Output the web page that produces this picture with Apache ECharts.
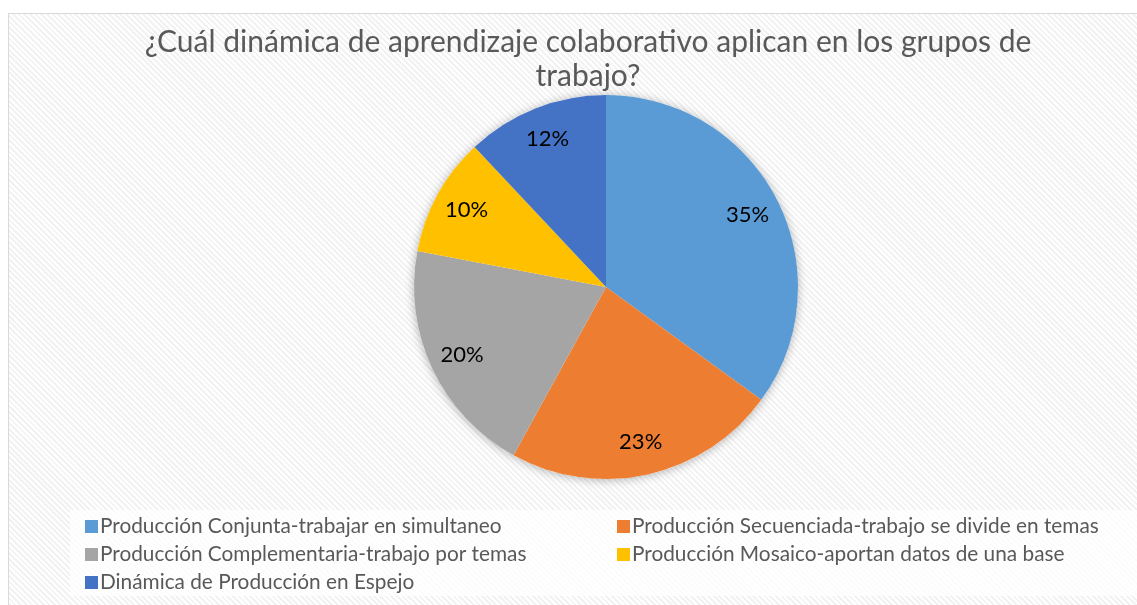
<!DOCTYPE html>
<html>
<head>
<meta charset="utf-8">
<script src="https://cdn.jsdelivr.net/npm/echarts@6/dist/echarts.min.js"></script>
<style>
html, body { margin: 0; padding: 0; background: #fff; }
#frame {
  position: absolute; left: 8px; top: 13px; width: 1140px; height: 600px;
  border: 1px solid #d9d9d9;
  background: repeating-linear-gradient(45deg, #ffffff 0px, #ffffff 2px, #f2f2f2 2px, #f2f2f2 4px);
}
#chart { position: absolute; left: 0; top: 0; width: 1137px; height: 605px; }
</style>
</head>
<body>
<div id="frame"></div>
<div id="chart"></div>
<script>
// datos
const titleText = "¿Cuál dinámica de aprendizaje colaborativo aplican en los grupos de\ntrabajo?"
const categories = [
  "Producción Conjunta-trabajar en simultaneo",
  "Producción Secuenciada-trabajo se divide en temas",
  "Producción Complementaria-trabajo por temas",
  "Producción Mosaico-aportan datos de una base",
  "Dinámica de Producción en Espejo"
]
const values = [35, 23, 20, 10, 12]
const colors = ["#5B9BD5", "#ED7D31", "#A5A5A5", "#FFC000", "#4472C4"]

const font = "Lato"
const pieData = categories.map((c, i) => ({ name: c, value: values[i], itemStyle: { color: colors[i] } }))

let legendText = { fontFamily: font, fontSize: 20.8, lineHeight: 20, color: "#595959", padding: [0, 0, 0, -3] }

let myChart = echarts.init(document.getElementById("chart"))
myChart.setOption({
  color: colors,
  title: {
    text: titleText,
    left: 583,
    top: 20,
    textAlign: "center",
    textStyle: {
      fontFamily: font,
      fontSize: 30,
      fontWeight: "normal",
      color: "#595959",
      lineHeight: 34
    }
  },
  graphic: [{
    type: "rect",
    left: 70, top: 510,
    shape: { width: 1067, height: 86 },
    style: { fill: "rgba(255,255,255,0.75)" },
    z: -1
  }],
  legend: [
    {
      data: [categories[0], categories[2], categories[4]],
      orient: "vertical",
      left: 80, top: 511,
      itemWidth: 13, itemHeight: 13, itemGap: 7,
      icon: "rect",
      textStyle: legendText,
      selectedMode: false
    },
    {
      data: [categories[1], categories[3]],
      orient: "vertical",
      left: 612, top: 511,
      itemWidth: 13, itemHeight: 13, itemGap: 7,
      icon: "rect",
      textStyle: legendText,
      selectedMode: false
    }
  ],
  series: [
    {
      // sombra del pastel
      type: "pie",
      center: [606, 287],
      radius: [0, 192],
      silent: true,
      label: { show: false },
      itemStyle: { color: "#fff", shadowBlur: 10, shadowColor: "rgba(0,0,0,0.3)", shadowOffsetY: 1 },
      data: [{ name: "", value: 1 }],
      z: 1
    },
    {
      type: "pie",
      center: [606, 287],
      radius: [0, 192],
      startAngle: 90,
      clockwise: true,
      label: { show: false },
      labelLine: { show: false },
      itemStyle: { borderWidth: 0 },
      emphasis: { disabled: true },
      data: pieData,
      z: 2
    },
    {
      // etiquetas
      type: "pie",
      center: [606, 287],
      radius: [120, 192],
      startAngle: 90,
      clockwise: true,
      silent: true,
      itemStyle: { color: "rgba(0,0,0,0)" },
      label: {
        show: true,
        position: "inside",
        formatter: "{d}%",
        fontFamily: font,
        fontSize: 22,
        color: "#000"
      },
      labelLine: { show: false },
      data: categories.map((c, i) => ({ name: c, value: values[i] })),
      z: 3
    }
  ]
})
</script>
</body>
</html>
